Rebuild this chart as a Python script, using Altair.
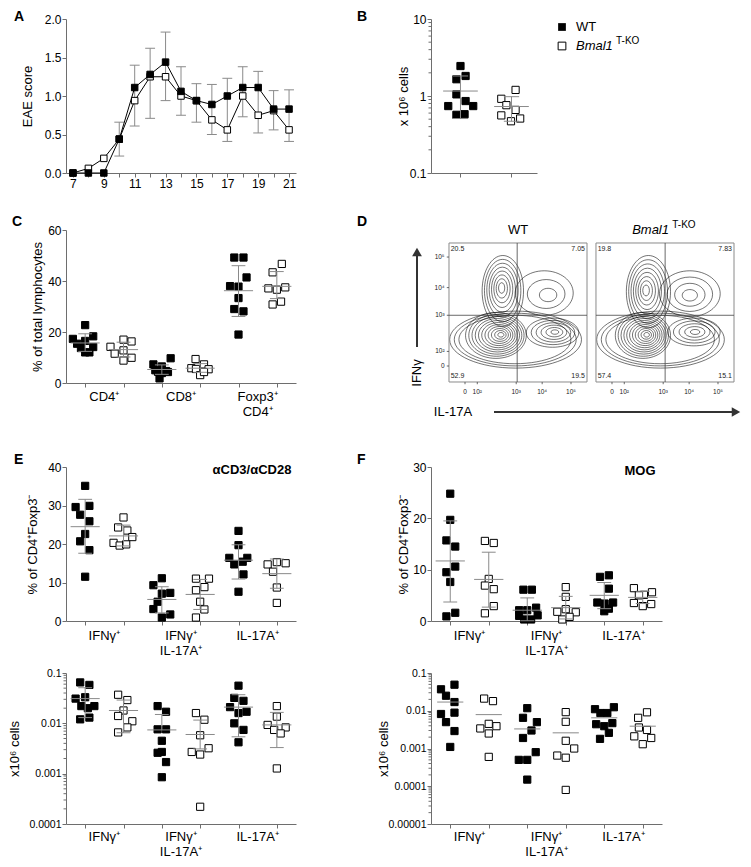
import altair as alt
import pandas as pd

FONT = "Liberation Sans"
AXC = "#6e6e6e"
ERR = "#8a8a8a"
GENOS = ["WT", "KO"]

# ---------------- A: EAE clinical score ----------------
days = list(range(7, 22))
eae_wt = [0, 0, 0, 0.44, 1.11, 1.28, 1.44, 1.06, 0.94, 0.89, 1.0, 1.11, 1.11, 0.83, 0.83]
eae_ko = [0, 0.06, 0.19, 0.44, 0.94, 1.25, 1.25, 1.0, 0.94, 0.69, 0.56, 1.0, 0.75, 0.81, 0.56]
eae_hi = [None, None, None, 0.66, 1.40, 1.62, 1.83, 1.38, 1.16, 1.15, 1.23, 1.38, 1.32, 1.07, 1.08]
eae_lo = [None, None, None, 0.22, 0.61, 0.71, 0.94, 0.75, 0.66, 0.50, 0.41, 0.73, 0.52, 0.56, 0.41]

# ---------------- B: total CNS cells (x10^6) ----------------
b_vals = [[2.45, 1.65, 1.82, 1.05, 0.86, 0.74, 0.74, 0.57, 0.58],
          [1.2, 0.92, 0.76, 0.66, 0.56, 0.47, 0.51]]
b_jit = [[0, -0.08, 0.1, -0.08, 0.1, -0.24, 0.25, -0.08, 0.08],
         [0.08, -0.2, -0.1, 0.08, -0.2, -0.01, 0.17]]
b_mean = [1.16, 0.73]
b_hi = [1.82, 0.98]
b_lo = [0.51, 0.47]

# ---------------- C: % of total lymphocytes ----------------
c_cats = ["CD4⁺", "CD8⁺", "Foxp3⁺\nCD4⁺"]
c_vals = [[17.3, 22.7, 15.4, 16.5, 18.3, 13.7, 14.1, 12.0, 12.0],
          [14.2, 17.0, 16.3, 11.5, 12.8, 8.8, 9.9],
          [7.3, 9.7, 6.5, 4.4, 4.7, 3.9, 4.3, 1.8, 5.0],
          [9.4, 5.8, 7.3, 5.5, 5.4, 3.1, 4.3],
          [49.2, 49.2, 41.4, 38.0, 37.8, 33.3, 29.0, 28.1, 19.0],
          [43.4, 46.7, 37.1, 36.6, 37.5, 30.8, 31.9]]
c_jit = [[-0.32, 0, -0.21, 0, 0.21, -0.11, 0.21, 0, 0.11],
         [-0.34, 0, 0.21, -0.23, 0, 0, 0.21],
         [-0.22, 0.23, 0, -0.1, 0.11, 0, 0.16, -0.06, -0.17],
         [-0.12, -0.23, 0.1, -0.11, 0.22, 0, 0.1],
         [-0.11, 0.13, 0.21, -0.22, 0, 0, -0.11, 0.13, 0],
         [-0.11, 0.13, -0.22, 0, 0.22, -0.11, 0.11]]
c_mean = [15.7, 13.1, 5.3, 5.8, 36.2, 37.9]
c_hi = [19.3, 16.0, 7.1, 7.6, 46.0, 43.7]
c_lo = [12.4, 10.2, 3.4, 4.2, 26.1, 33.1]

# ---------------- D: flow cytometry (IL-17A vs IFNγ) ----------------
flow_tick_pos = [11.6, 20.5, 48.7, 67.5, 88.4]
flow_tick_pos_y = [11.5, 22.0, 48.0, 67.9, 89.9]
flow_tick_lab = ["0", "10²", "10³", "10⁴", "10⁵"]
quad_wt = ["20.5", "7.05", "52.9", "19.5"]   # TL, TR, BL, BR
quad_ko = ["19.8", "7.83", "57.4", "15.1"]
gate_wt = (49.4, 48.0)
gate_ko = (50.1, 48.0)
# contour blobs: x0, x1, y0, y1, focus x, focus y, rings, inner scale
flow_blobs_wt = [(0.5, 96.0, 10.0, 51.0, 45.0, 31.0, 3, 0.85),
                 (12.0, 56.0, 17.0, 50.0, 38.0, 34.0, 11, 0.1),
                 (56.0, 94.0, 25.0, 46.0, 77.0, 36.0, 6, 0.15),
                 (24.0, 54.0, 40.0, 91.0, 38.0, 68.0, 8, 0.15),
                 (48.0, 90.0, 48.0, 80.0, 73.0, 62.0, 3, 0.3)]
flow_blobs_ko = [(0.5, 93.0, 10.0, 51.0, 45.0, 31.0, 3, 0.85),
                 (14.0, 54.0, 17.0, 50.0, 37.0, 34.0, 11, 0.1),
                 (52.0, 90.0, 26.0, 46.0, 72.0, 36.0, 5, 0.18),
                 (22.0, 54.0, 39.0, 91.0, 36.0, 66.0, 8, 0.15),
                 (46.0, 90.0, 47.0, 80.0, 68.0, 62.0, 4, 0.25)]

# ---------------- E/F categories ----------------
ef_cats = ["IFNγ⁺", "IFNγ⁺\nIL-17A⁺", "IL-17A⁺"]

# E top: aCD3/aCD28, % of CD4+Foxp3-
e1_vals = [[35.1, 29.6, 29.9, 27.6, 25.9, 22.6, 20.7, 18.4, 11.5],
           [26.9, 24.3, 23.5, 20.3, 21.8, 19.6, 19.9],
           [11.1, 9.3, 7.1, 7.3, 5.0, 3.1, 1.7, 0.9],
           [11.0, 11.0, 8.0, 8.8, 5.0, 3.0, 0.9],
           [23.4, 19.7, 16.4, 16.4, 14.7, 15.4, 12.1, 7.6],
           [14.7, 15.3, 15.0, 12.8, 8.7, 4.7]]
e1_jit = [[0, -0.25, 0.11, -0.13, 0.11, 0, -0.13, 0.11, 0],
          [0, -0.14, 0.1, -0.26, 0.23, -0.1, 0.07],
          [0, -0.22, 0, 0.22, -0.11, -0.22, 0.22, 0],
          [-0.11, 0.23, -0.11, 0.11, 0, 0.11, -0.11],
          [0, 0, -0.24, 0.23, -0.11, 0.11, 0.13, 0],
          [-0.24, 0, 0.23, -0.1, 0, 0]]
e1_mean = [24.5, 22.1, 5.6, 6.9, 15.8, 12.3]
e1_hi = [31.6, 24.9, 8.9, 10.8, 19.8, 16.1]
e1_lo = [17.6, 19.5, 2.1, 3.0, 10.9, 8.5]

# E bottom: x10^6 cells
e2_vals = [[0.065, 0.058, 0.031, 0.033, 0.022, 0.020, 0.022, 0.012, 0.013],
           [0.037, 0.029, 0.018, 0.014, 0.011, 0.0083, 0.0066],
           [0.022, 0.017, 0.0076, 0.0076, 0.0045, 0.0026, 0.0027, 0.0017, 0.00085],
           [0.016, 0.0118, 0.0058, 0.0027, 0.0024, 0.0032, 0.00022],
           [0.056, 0.032, 0.028, 0.021, 0.016, 0.017, 0.010, 0.0074, 0.0042],
           [0.022, 0.0136, 0.0093, 0.0074, 0.0083, 0.0063, 0.00127]]
e2_jit = [[-0.13, 0.11, -0.25, 0, -0.1, 0.07, 0.24, -0.13, 0.11],
          [-0.14, 0.1, 0, -0.14, 0.23, 0.1, -0.14],
          [-0.11, 0.11, -0.11, 0.11, 0, -0.11, 0, 0.11, 0],
          [-0.11, 0.11, 0, -0.22, 0, 0.22, 0],
          [0, -0.11, 0.13, -0.22, 0, 0.21, -0.11, 0.13, 0],
          [0, 0, -0.24, -0.07, 0.23, 0.1, 0]]
e2_mean = [0.031, 0.018, 0.0074, 0.006, 0.021, 0.0093]
e2_hi = [0.051, 0.029, 0.015, 0.0116, 0.037, 0.0165]
e2_lo = [0.013, 0.0065, None, 0.0031, 0.0054, 0.0033]

# F top: MOG, % of CD4+Foxp3-
f1_vals = [[24.8, 19.7, 15.7, 14.5, 10.6, 9.5, 7.6, 1.6, 0.9],
           [15.6, 15.2, 8.2, 6.9, 6.2, 2.9, 1.5],
           [6.1, 6.1, 2.1, 2.1, 2.6, 1.0, 0.3, 0.3, 1.1],
           [6.6, 4.7, 1.8, 2.3, 1.7, 0.3, 0.8],
           [8.6, 8.9, 6.3, 3.6, 3.4, 3.6, 1.9, 2.4],
           [6.4, 5.1, 5.6, 5.0, 3.5, 2.9, 3.3]]
f1_jit = [[0, 0, -0.1, 0.13, 0.13, -0.1, 0, 0.13, -0.1],
          [-0.1, 0.13, 0, -0.1, 0.13, 0.13, -0.1],
          [-0.1, 0.12, -0.21, 0, 0.23, -0.21, -0.08, 0.1, 0.27],
          [0, 0, -0.22, 0, 0.26, -0.09, 0.1],
          [-0.11, 0.12, 0.12, -0.18, 0.01, 0.23, 0, 0.12],
          [-0.23, 0.03, 0.24, -0.1, -0.23, 0, 0.22]]
f1_mean = [11.7, 8.1, 2.1, 2.6, 5.0, 4.6]
f1_hi = [19.5, 13.4, 4.5, 4.8, 7.5, 5.8]
f1_lo = [3.7, 2.7, 0.05, 0.4, 2.4, 3.4]

# F bottom: x10^6 cells (mean only)
f2_vals = [[0.049, 0.037, 0.025, 0.017, 0.0082, 0.0089, 0.005, 0.0029, 0.0011],
           [0.021, 0.018, 0.0045, 0.0034, 0.0039, 0.0025, 0.0006],
           [0.0117, 0.0065, 0.005, 0.003, 0.0019, 0.0008, 0.0005, 0.0005, 0.00015],
           [0.0092, 0.0051, 0.0016, 0.001, 0.00065, 0.00057, 0.00008],
           [0.011, 0.0087, 0.0087, 0.0124, 0.0044, 0.0039, 0.0047, 0.0026, 0.0018],
           [0.0091, 0.0065, 0.0036, 0.0031, 0.0021, 0.0019, 0.0013]]
f2_jit = [[0.11, -0.24, -0.11, 0.11, -0.24, 0.11, -0.11, 0.11, 0],
          [-0.12, 0.11, 0, -0.22, 0.2, 0, 0],
          [0, -0.11, 0.25, 0.11, -0.11, 0.22, -0.22, 0, 0],
          [0, 0, 0, 0.22, -0.22, 0, 0],
          [-0.24, -0.1, 0.08, 0.25, -0.21, 0, 0.21, 0.12, -0.11],
          [0.11, -0.12, -0.1, 0.11, -0.22, 0.22, 0]]
f2_mean = [0.017, 0.0079, 0.0033, 0.0026, 0.0065, 0.0039]


# ======================================================================
def one():
    return alt.Data(values=[{}])


def letter_layer(ch, lx, ly):
    return alt.Chart(one()).mark_text(
        text=ch, fontSize=14, fontWeight="bold", align="left", baseline="top", font=FONT
    ).encode(x=alt.value(lx), y=alt.value(ly))


def fill_enc():
    return alt.Fill("geno:N", scale=alt.Scale(domain=GENOS, range=["black", "white"]), legend=None)


def minor_ticks(lo_dec, hi_dec):
    vals = []
    for e in range(lo_dec, hi_dec):
        for m in range(2, 10):
            vals.append({"v": m * 10.0 ** e})
    return vals


def dot_panel(vals, jits, mean, hi, lo, *, w, h, ydom, yticks, ytitle, title_x,
              log=False, xdom=(-0.5, 5.5), cats=None, cat_dy=8, letter=None,
              note=None, label_size=12, fmt=None, mean_half=0.38, cap_half=0.18,
              extra=None, decades=None):
    pts = []
    for g, (vs, js) in enumerate(zip(vals, jits)):
        for v, j in zip(vs, js):
            pts.append({"x": g + j, "v": v, "geno": GENOS[g % 2]})
    stats, vert, caps = [], [], []
    for g in range(len(vals)):
        stats.append({"a": g - mean_half, "b": g + mean_half, "m": mean[g]})
        if hi is not None:
            top = hi[g]
            bot = lo[g] if lo[g] is not None else mean[g]
            vert.append({"g": g, "lo": bot, "hi": top})
            caps.append({"a": g - cap_half, "b": g + cap_half, "y": top})
            if lo[g] is not None:
                caps.append({"a": g - cap_half, "b": g + cap_half, "y": lo[g]})

    xs = alt.Scale(domain=list(xdom), nice=False, zero=False)
    if log:
        ys = alt.Scale(type="log", domain=ydom, nice=False)
    else:
        ys = alt.Scale(domain=ydom, nice=False, zero=False)
    xax = alt.Axis(values=list(range(len(vals))), labels=False, title=None)
    ykw = dict(values=yticks, title=ytitle, titleX=title_x, titleBaseline="middle",
               labelFontSize=label_size)
    if fmt:
        ykw["format"] = fmt
    yax = alt.Axis(**ykw)

    def X(f):
        return alt.X(f, scale=xs, axis=xax)

    def Y(f):
        return alt.Y(f, scale=ys, axis=yax)

    layers = [
        alt.Chart(alt.Data(values=pts)).mark_square(
            size=52, stroke="black", strokeWidth=1, opacity=1
        ).encode(x=X("x:Q"), y=Y("v:Q"), fill=fill_enc()),
        alt.Chart(alt.Data(values=stats)).mark_rule(color=ERR, strokeWidth=1).encode(
            x=X("a:Q"), x2="b:Q", y=Y("m:Q")),
    ]
    if vert:
        layers.append(alt.Chart(alt.Data(values=vert)).mark_rule(color=ERR, strokeWidth=1).encode(
            x=X("g:Q"), y=Y("lo:Q"), y2="hi:Q"))
        layers.append(alt.Chart(alt.Data(values=caps)).mark_rule(color=ERR, strokeWidth=1).encode(
            x=X("a:Q"), x2="b:Q", y=Y("y:Q")))
    if decades:
        layers.append(alt.Chart(alt.Data(values=minor_ticks(*decades))).mark_rule(
            color=AXC, strokeWidth=1).encode(x=alt.value(-2.5), x2=alt.value(0), y=Y("v:Q")))
    if cats:
        crow = [{"t": c, "p": 2 * i + 0.5} for i, c in enumerate(cats)]
        layers.append(alt.Chart(alt.Data(values=crow)).mark_text(
            baseline="top", align="center", fontSize=13, lineBreak="\n", lineHeight=15, font=FONT
        ).encode(x=X("p:Q"), y=alt.value(h + cat_dy), text="t:N"))
    if note:
        txt, nx, ny = note
        layers.append(alt.Chart(one()).mark_text(
            text=txt, fontSize=13, fontWeight="bold", align="center", baseline="middle", font=FONT
        ).encode(x=alt.value(nx), y=alt.value(ny)))
    if letter:
        layers.append(letter_layer(*letter))
    if extra:
        layers.extend(extra)
    return alt.layer(*layers).properties(width=w, height=h)


# ---------------- Panel A ----------------
a_pts, a_err, a_caps = [], [], []
for geno, series in (("KO", eae_ko), ("WT", eae_wt)):
    for d, s in zip(days, series):
        a_pts.append({"day": d, "score": s, "geno": geno})
for d, hi_, lo_ in zip(days, eae_hi, eae_lo):
    if hi_ is not None:
        a_err.append({"day": d, "lo": lo_, "hi": hi_})
        a_caps.append({"a": d - 0.32, "b": d + 0.32, "y": hi_})
        a_caps.append({"a": d - 0.32, "b": d + 0.32, "y": lo_})

ax_x = alt.Scale(domain=[6.55, 21.45], nice=False, zero=False)
ax_y = alt.Scale(domain=[0, 2], nice=False)
a_xaxis = alt.Axis(values=days, labelExpr="datum.value % 2 == 1 ? datum.label : ''", title=None)
a_yaxis = alt.Axis(values=[0, 0.5, 1, 1.5, 2], format=".1f", title="EAE score", titleX=-39,
                   titleBaseline="middle")


def AX(f):
    return alt.X(f, scale=ax_x, axis=a_xaxis)


def AY(f):
    return alt.Y(f, scale=ax_y, axis=a_yaxis)


panel_a = alt.layer(
    alt.Chart(alt.Data(values=a_err)).mark_rule(color=ERR, strokeWidth=1).encode(
        x=AX("day:Q"), y=AY("lo:Q"), y2="hi:Q"),
    alt.Chart(alt.Data(values=a_caps)).mark_rule(color=ERR, strokeWidth=1).encode(
        x=AX("a:Q"), x2="b:Q", y=AY("y:Q")),
    alt.Chart(alt.Data(values=a_pts)).mark_line(color="black", strokeWidth=1).encode(
        x=AX("day:Q"), y=AY("score:Q"), detail="geno:N"),
    alt.Chart(alt.Data(values=a_pts)).mark_square(size=42, stroke="black", strokeWidth=1, opacity=1).encode(
        x=AX("day:Q"), y=AY("score:Q"), fill=fill_enc()),
    letter_layer("A", -52, -9),
).properties(width=230, height=154)

# ---------------- Panel B ----------------
legend_layers = [
    alt.Chart(one()).mark_square(size=60, color="black", opacity=1).encode(x=alt.value(131), y=alt.value(8)),
    alt.Chart(one()).mark_square(size=60, fill="white", stroke="black", strokeWidth=1, opacity=1).encode(
        x=alt.value(131), y=alt.value(27)),
    alt.Chart(one()).mark_text(text="WT", fontSize=13, align="left", baseline="middle", font=FONT).encode(
        x=alt.value(145), y=alt.value(8)),
    alt.Chart(one()).mark_text(text="Bmal1", fontSize=13, fontStyle="italic", align="left",
                               baseline="middle", font=FONT).encode(x=alt.value(145), y=alt.value(27)),
    alt.Chart(one()).mark_text(text="T-KO", fontSize=10, align="left", baseline="middle", font=FONT).encode(
        x=alt.value(185), y=alt.value(22)),
]
panel_b = dot_panel(b_vals, b_jit, b_mean, b_hi, b_lo, w=106, h=154, ydom=[0.1, 10],
                    yticks=[0.1, 1, 10], ytitle="x 10⁶ cells", title_x=-28, log=True,
                    xdom=(-0.578, 1.5), fmt="~f", mean_half=0.34, cap_half=0.15,
                    letter=("B", -74, -9), extra=legend_layers, decades=(-1, 1))

# ---------------- Panel C ----------------
panel_c = dot_panel(c_vals, c_jit, c_mean, c_hi, c_lo, w=230, h=153, ydom=[0, 60],
                    yticks=[0, 20, 40, 60], ytitle="% of total lymphocytes", title_x=-29,
                    cats=c_cats, cat_dy=8, letter=("C", -54, -15))

# ---------------- Panel D ----------------
KO_OFF = 106.5
D_W, D_H = 303, 153
D_XDOM = [-13.04, 206.5]
D_YDOM = [-0.72, 109.35]
PX_X = D_W / (D_XDOM[1] - D_XDOM[0])
PX_Y = D_H / (D_YDOM[1] - D_YDOM[0])
D_XS = alt.Scale(domain=D_XDOM, nice=False, zero=False)
D_YS = alt.Scale(domain=D_YDOM, nice=False, zero=False)


def DX(f):
    return alt.X(f, scale=D_XS, axis=None)


def DY(f):
    return alt.Y(f, scale=D_YS, axis=None)


def ellipse_path(r):
    k = 0.5523
    return (f"M -1 0 C -1 {-k*r:.4f} {-k:.4f} {-r:.4f} 0 {-r:.4f} "
            f"C {k:.4f} {-r:.4f} 1 {-k*r:.4f} 1 0 "
            f"C 1 {k*r:.4f} {k:.4f} {r:.4f} 0 {r:.4f} "
            f"C {-k:.4f} {r:.4f} -1 {k*r:.4f} -1 0 Z")


rings, frames, vgates, hgates = [], [], [], []
qleft, qright, xt_lab, xt_tick, yt_lab, yt_tick = [], [], [], [], [], []
for off, blobs, gate, quad in ((0.0, flow_blobs_wt, gate_wt, quad_wt),
                               (KO_OFF, flow_blobs_ko, gate_ko, quad_ko)):
    for (x0, x1, y0, y1, fx, fy, n, smin) in blobs:
        for i in range(n):
            s = 1.0 if n == 1 else 1.0 - i * (1.0 - smin) / (n - 1)
            rx0, rx1 = fx + (x0 - fx) * s, fx + (x1 - fx) * s
            ry0, ry1 = fy + (y0 - fy) * s, fy + (y1 - fy) * s
            wpx = (rx1 - rx0) * PX_X
            hpx = (ry1 - ry0) * PX_Y
            rings.append({"cx": off + (rx0 + rx1) / 2, "cy": (ry0 + ry1) / 2,
                          "shp": ellipse_path(hpx / wpx), "sz": wpx * wpx})
    frames.append({"x0": off, "x1": off + 100, "y0": 0, "y1": 100})
    vgates.append({"x": off + gate[0], "y0": 0, "y1": 100})
    hgates.append({"x0": off, "x1": off + 100, "y": gate[1]})
    qleft += [{"x": off + 1.2, "y": 95.7, "t": quad[0]}, {"x": off + 1.2, "y": 4.5, "t": quad[2]}]
    qright += [{"x": off + 98.5, "y": 95.7, "t": quad[1]}, {"x": off + 98.5, "y": 4.5, "t": quad[3]}]
    for p, lab in zip(flow_tick_pos, flow_tick_lab):
        xt_lab.append({"x": off + p, "y": -7.2, "t": lab})
        xt_tick.append({"x": off + p, "y0": -1.6, "y1": 0})
for p, lab in zip(flow_tick_pos_y, flow_tick_lab):
    yt_lab.append({"x": -3.2, "y": p, "t": lab})
    yt_tick.append({"x0": -1.6, "x1": 0, "y": p})

ARW = "#333333"
panel_d = alt.layer(
    alt.Chart(alt.Data(values=rings)).mark_point(filled=False, stroke="black", strokeWidth=0.55,
                                                 opacity=1).encode(
        x=DX("cx:Q"), y=DY("cy:Q"), shape=alt.Shape("shp:N", scale=None),
        size=alt.Size("sz:Q", scale=None)),
    alt.Chart(alt.Data(values=frames)).mark_rect(filled=False, stroke="#8a8a8a", strokeWidth=1).encode(
        x=DX("x0:Q"), x2="x1:Q", y=DY("y0:Q"), y2="y1:Q"),
    alt.Chart(alt.Data(values=vgates)).mark_rule(color="#444", strokeWidth=0.8).encode(
        x=DX("x:Q"), y=DY("y0:Q"), y2="y1:Q"),
    alt.Chart(alt.Data(values=hgates)).mark_rule(color="#444", strokeWidth=0.8).encode(
        x=DX("x0:Q"), x2="x1:Q", y=DY("y:Q")),
    alt.Chart(alt.Data(values=qleft)).mark_text(fontSize=7, align="left", baseline="middle", font=FONT,
                                                color="#222").encode(x=DX("x:Q"), y=DY("y:Q"), text="t:N"),
    alt.Chart(alt.Data(values=qright)).mark_text(fontSize=7, align="right", baseline="middle", font=FONT,
                                                 color="#222").encode(x=DX("x:Q"), y=DY("y:Q"), text="t:N"),
    alt.Chart(alt.Data(values=xt_lab)).mark_text(fontSize=6.5, align="center", baseline="middle", font=FONT,
                                                 color="#222").encode(x=DX("x:Q"), y=DY("y:Q"), text="t:N"),
    alt.Chart(alt.Data(values=xt_tick)).mark_rule(color="#444", strokeWidth=0.8).encode(
        x=DX("x:Q"), y=DY("y0:Q"), y2="y1:Q"),
    alt.Chart(alt.Data(values=yt_lab)).mark_text(fontSize=6.5, align="right", baseline="middle", font=FONT,
                                                 color="#222").encode(x=DX("x:Q"), y=DY("y:Q"), text="t:N"),
    alt.Chart(alt.Data(values=yt_tick)).mark_rule(color="#444", strokeWidth=0.8).encode(
        x=DX("x0:Q"), x2="x1:Q", y=DY("y:Q")),
    # panel headers
    alt.Chart(alt.Data(values=[{"x": 50, "y": 109.4, "t": "WT"}])).mark_text(
        fontSize=13, align="center", baseline="middle", font=FONT).encode(x=DX("x:Q"), y=DY("y:Q"), text="t:N"),
    alt.Chart(alt.Data(values=[{"x": 159.4, "y": 109.4, "t": "Bmal1"}])).mark_text(
        fontSize=13, fontStyle="italic", align="right", baseline="middle", font=FONT).encode(
        x=DX("x:Q"), y=DY("y:Q"), text="t:N"),
    alt.Chart(alt.Data(values=[{"x": 161.8, "y": 113.0, "t": "T-KO"}])).mark_text(
        fontSize=10, align="left", baseline="middle", font=FONT).encode(
        x=DX("x:Q"), y=DY("y:Q"), text="t:N"),
    # axis arrows
    alt.Chart(one()).mark_rule(color=ARW, strokeWidth=2).encode(
        x=alt.value(-14), y=alt.value(22), y2=alt.value(117)),
    alt.Chart(one()).mark_point(shape="triangle-up", filled=True, size=95, color=ARW, opacity=1).encode(
        x=alt.value(-14), y=alt.value(22)),
    alt.Chart(one()).mark_rule(color=ARW, strokeWidth=2).encode(
        x=alt.value(63), x2=alt.value(303), y=alt.value(182)),
    alt.Chart(one()).mark_point(shape="triangle-right", filled=True, size=95, color=ARW, opacity=1).encode(
        x=alt.value(305), y=alt.value(182)),
    alt.Chart(one()).mark_text(text="IFNγ", fontSize=13, angle=270, align="center", baseline="middle",
                               font=FONT).encode(x=alt.value(-14), y=alt.value(143)),
    alt.Chart(one()).mark_text(text="IL-17A", fontSize=13, align="center", baseline="middle",
                               font=FONT).encode(x=alt.value(22), y=alt.value(182)),
    letter_layer("D", -74, -15),
).properties(width=D_W, height=D_H)

# ---------------- Panels E / F ----------------
panel_e1 = dot_panel(e1_vals, e1_jit, e1_mean, e1_hi, e1_lo, w=230, h=154, ydom=[0, 40],
                     yticks=[0, 10, 20, 30, 40], ytitle="% of CD4⁺Foxp3⁻", title_x=-34,
                     cats=ef_cats, cat_dy=9, letter=("E", -52, -14), note=("αCD3/αCD28", 186, 3))
panel_f1 = dot_panel(f1_vals, f1_jit, f1_mean, f1_hi, f1_lo, w=231, h=154, ydom=[0, 30],
                     yticks=[0, 10, 20, 30], ytitle="% of CD4⁺Foxp3⁻", title_x=-28,
                     cats=ef_cats, cat_dy=9, letter=("F", -74, -14), note=("MOG", 209, 4))
panel_e2 = dot_panel(e2_vals, e2_jit, e2_mean, e2_hi, e2_lo, w=230, h=151, ydom=[0.0001, 0.1],
                     yticks=[0.0001, 0.001, 0.01, 0.1], ytitle="x10⁶ cells", title_x=-52, log=True,
                     fmt="~f", label_size=10.5, cats=ef_cats, cat_dy=7, decades=(-4, -1))
panel_f2 = dot_panel(f2_vals, f2_jit, f2_mean, None, None, w=231, h=151, ydom=[0.00001, 0.1],
                     yticks=[0.00001, 0.0001, 0.001, 0.01, 0.1], ytitle="x10⁶ cells", title_x=-48,
                     log=True, fmt="~f", label_size=10.5, cats=ef_cats, cat_dy=7, mean_half=0.34,
                     decades=(-5, -1))


def spacer(h):
    return alt.Chart(one()).mark_point(opacity=0).encode(
        x=alt.value(0), y=alt.value(0)).properties(width=1, height=h)


chart = alt.concat(
    panel_a, panel_b,
    spacer(57), spacer(57),
    panel_c, panel_d,
    spacer(84), spacer(84),
    panel_e1, panel_f1,
    spacer(52), spacer(52),
    panel_e2, panel_f2,
    columns=2, spacing={"row": 0, "column": 135}, bounds="flush", align="each",
).properties(
    padding={"left": 0, "top": 2, "right": 0, "bottom": 0}
).configure_view(stroke=None).configure_axis(
    labelFont=FONT, titleFont=FONT, labelFontSize=12, titleFontSize=13, titleFontWeight="normal",
    domainColor=AXC, tickColor=AXC, labelColor="black", titleColor="black", tickSize=4,
    labelPadding=1, grid=False, labelFlush=False, labelOverlap=False
).configure_text(font=FONT)

chart.save("out.html", embed_options={"renderer": "svg", "actions": False})
